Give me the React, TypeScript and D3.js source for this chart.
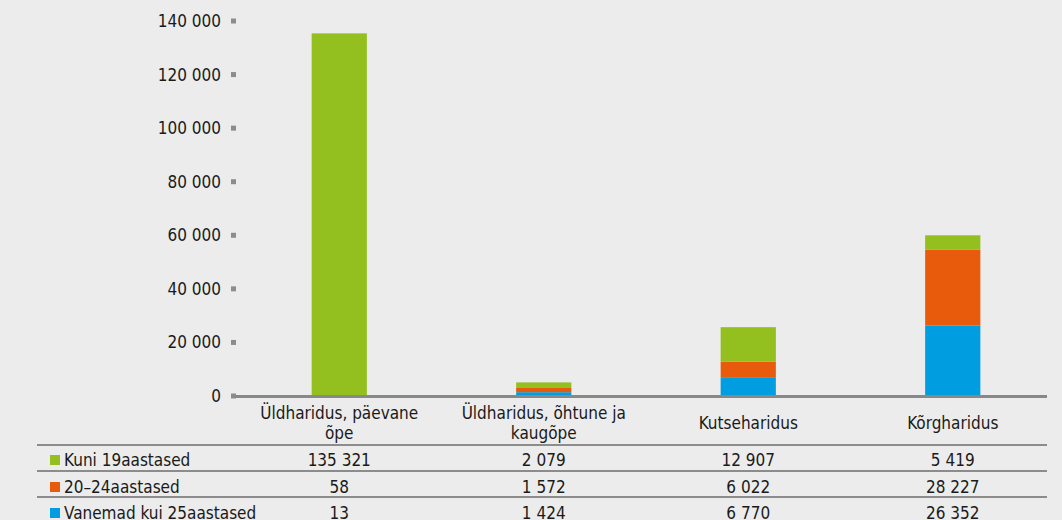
import React from 'react';
import * as d3 from 'd3';

const categories = [
  ['Üldharidus, päevane', 'õpe'],
  ['Üldharidus, õhtune ja', 'kaugõpe'],
  ['Kutseharidus'],
  ['Kõrgharidus'],
];
const seriesNames = ['Kuni 19aastased', '20–24aastased', 'Vanemad kui 25aastased'];
const kuni19 = [135321, 2079, 12907, 5419];
const vanus20_24 = [58, 1572, 6022, 28227];
const vanemad25 = [13, 1424, 6770, 26352];
const yTicks = [0, 20000, 40000, 60000, 80000, 100000, 120000, 140000];
const colors = ['#93c01f', '#e95b0c', '#009ee0'];

const W = 1062;
const H = 520;
const FONT = '"Liberation Sans Narrow", "DejaVu Sans Condensed", "Open Sans", sans-serif';

const fmt = (v: number) => d3.format(',')(v).replace(/,/g, ' ');

export default function App() {
  const series = [kuni19, vanus20_24, vanemad25];
  const rows = categories.map((c, i) => ({
    key: i,
    v0: vanemad25[i],
    v1: vanus20_24[i],
    v2: kuni19[i],
  }));
  // stack bottom->top: blue, orange, green
  const stacked = d3.stack<any>().keys(['v0', 'v1', 'v2'])(rows);
  const stackColors = [colors[2], colors[1], colors[0]];

  const y = d3.scaleLinear().domain([0, 140000]).range([396, 21]);
  const x = d3
    .scaleBand<number>()
    .domain(d3.range(categories.length))
    .range([237, 1055])
    .paddingInner(0.73)
    .paddingOuter(0.365);

  const cx = (i: number) => (x(i) as number) + x.bandwidth() / 2;
  const rowY = [460, 487, 513];
  const lineY = [445, 471, 497];

  return (
    <svg
      width={W}
      height={H}
      style={{ position: 'absolute', left: 0, top: 0, background: '#ececec' }}
      fontFamily={FONT}
    >
      <rect width={W} height={H} fill="#ececec" />
      {/* y axis ticks */}
      {yTicks.map((t) => (
        <g key={t}>
          <rect x={231} y={y(t) - 2.5} width={5} height={5} fill="#8c8c8c" />
          <text x={221} y={y(t)} dy="0.35em" textAnchor="end" fontSize={17} fill="#1a1a1a">
            {fmt(t)}
          </text>
        </g>
      ))}
      {/* bars */}
      {stacked.map((layer, li) => (
        <g key={li} fill={stackColors[li]}>
          {layer.map((d, i) => (
            <rect
              key={i}
              x={x(i)}
              y={y(d[1])}
              width={x.bandwidth()}
              height={Math.max(0, y(d[0]) - y(d[1]))}
            />
          ))}
        </g>
      ))}
      {/* baseline */}
      <line x1={233} x2={1047} y1={396.5} y2={396.5} stroke="#888" strokeWidth={3} />
      {/* category labels */}
      {categories.map((lines, i) => (
        <text key={i} textAnchor="middle" fontSize={17} fill="#1a1a1a">
          {lines.length === 1 ? (
            <tspan x={cx(i)} y={429}>{lines[0]}</tspan>
          ) : (
            lines.map((l, j) => (
              <tspan key={j} x={cx(i)} y={419 + j * 20}>
                {l}
              </tspan>
            ))
          )}
        </text>
      ))}
      {/* table lines */}
      {lineY.map((ly) => (
        <line key={ly} x1={37} x2={1047} y1={ly} y2={ly} stroke="#8c8c8c" strokeWidth={2} />
      ))}
      {/* table rows */}
      {seriesNames.map((name, r) => (
        <g key={name}>
          <rect x={50} y={rowY[r] - 5} width={10} height={10} fill={colors[r]} />
          <text x={64} y={rowY[r]} dy="0.35em" fontSize={17} fill="#1a1a1a">
            {name}
          </text>
          {series[r].map((v, i) => (
            <text key={i} x={cx(i)} y={rowY[r]} dy="0.35em" textAnchor="middle" fontSize={17} fill="#1a1a1a">
              {fmt(v)}
            </text>
          ))}
        </g>
      ))}
    </svg>
  );
}
